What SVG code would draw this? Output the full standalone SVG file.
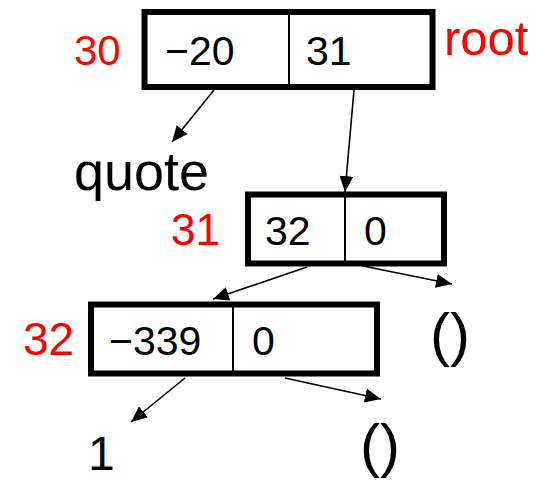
<svg xmlns="http://www.w3.org/2000/svg" width="549" height="480" viewBox="0 0 549 480">
  <style>
    .cell { fill: #ffffff; stroke: #000000; stroke-width: 6; }
    .div { stroke: #000000; stroke-width: 2; }
    .val { font-family: "Liberation Sans", Arial, sans-serif; font-size: 41px; fill: #000000; }
    .addr { font-family: "Liberation Sans", Arial, sans-serif; fill: #ff0000; }
    .atom { font-family: "Liberation Sans", Arial, sans-serif; fill: #000000; }
    .link { stroke: #000000; stroke-width: 1.6; fill: none; marker-end: url(#head); }
  </style>
  <defs>
    <marker id="head" viewBox="0 0 16 14" refX="16" refY="7" markerWidth="16" markerHeight="14" markerUnits="userSpaceOnUse" orient="auto">
      <path d="M0,0 L16,7 L0,14 z" fill="#000000"/>
    </marker>
  </defs>
  <rect width="549" height="480" fill="#ffffff"/>

  <!-- cons cell at address 30 (root) -->
  <g id="cell30">
    <rect class="cell" x="144.5" y="12" width="288" height="75"/>
    <line class="div" x1="289" y1="12" x2="289" y2="87"/>
    <text class="val" x="165" y="65" font-size="42">−20</text>
    <text class="val" x="306" y="65" font-size="42">31</text>
    <text class="addr" x="74" y="65" font-size="42">30</text>
    <text class="addr" x="444" y="55" font-size="49">root</text>
  </g>

  <!-- cons cell at address 31 -->
  <g id="cell31">
    <rect class="cell" x="248" y="194.5" width="196" height="69"/>
    <line class="div" x1="345" y1="194.5" x2="345" y2="263.5"/>
    <text class="val" x="265" y="245">32</text>
    <text class="val" x="364" y="245">0</text>
    <text class="addr" x="171" y="245" font-size="44">31</text>
  </g>

  <!-- cons cell at address 32 -->
  <g id="cell32">
    <rect class="cell" x="91" y="304.5" width="286" height="69"/>
    <line class="div" x1="233" y1="304.5" x2="233" y2="373.5"/>
    <text class="val" x="109" y="355">−339</text>
    <text class="val" x="252" y="355">0</text>
    <text class="addr" x="23" y="355" font-size="46">32</text>
  </g>

  <!-- atoms -->
  <g id="quote"><text class="atom" x="74" y="190" font-size="54">quote</text></g>
  <g id="nil1"><text class="atom" x="430" y="355" font-size="60">()</text></g>
  <g id="one"><text class="atom" x="88" y="470" font-size="48">1</text></g>
  <g id="nil2"><text class="atom" x="360" y="466" font-size="60">()</text></g>

  <!-- pointers -->
  <g id="links">
    <line class="link" x1="214" y1="90" x2="172" y2="142"/>
    <line class="link" x1="354" y1="90" x2="345" y2="192"/>
    <line class="link" x1="307" y1="267" x2="213" y2="299"/>
    <line class="link" x1="363" y1="266" x2="452" y2="284"/>
    <line class="link" x1="185" y1="378" x2="131" y2="422"/>
    <line class="link" x1="285" y1="378" x2="381" y2="399"/>
  </g>
</svg>
